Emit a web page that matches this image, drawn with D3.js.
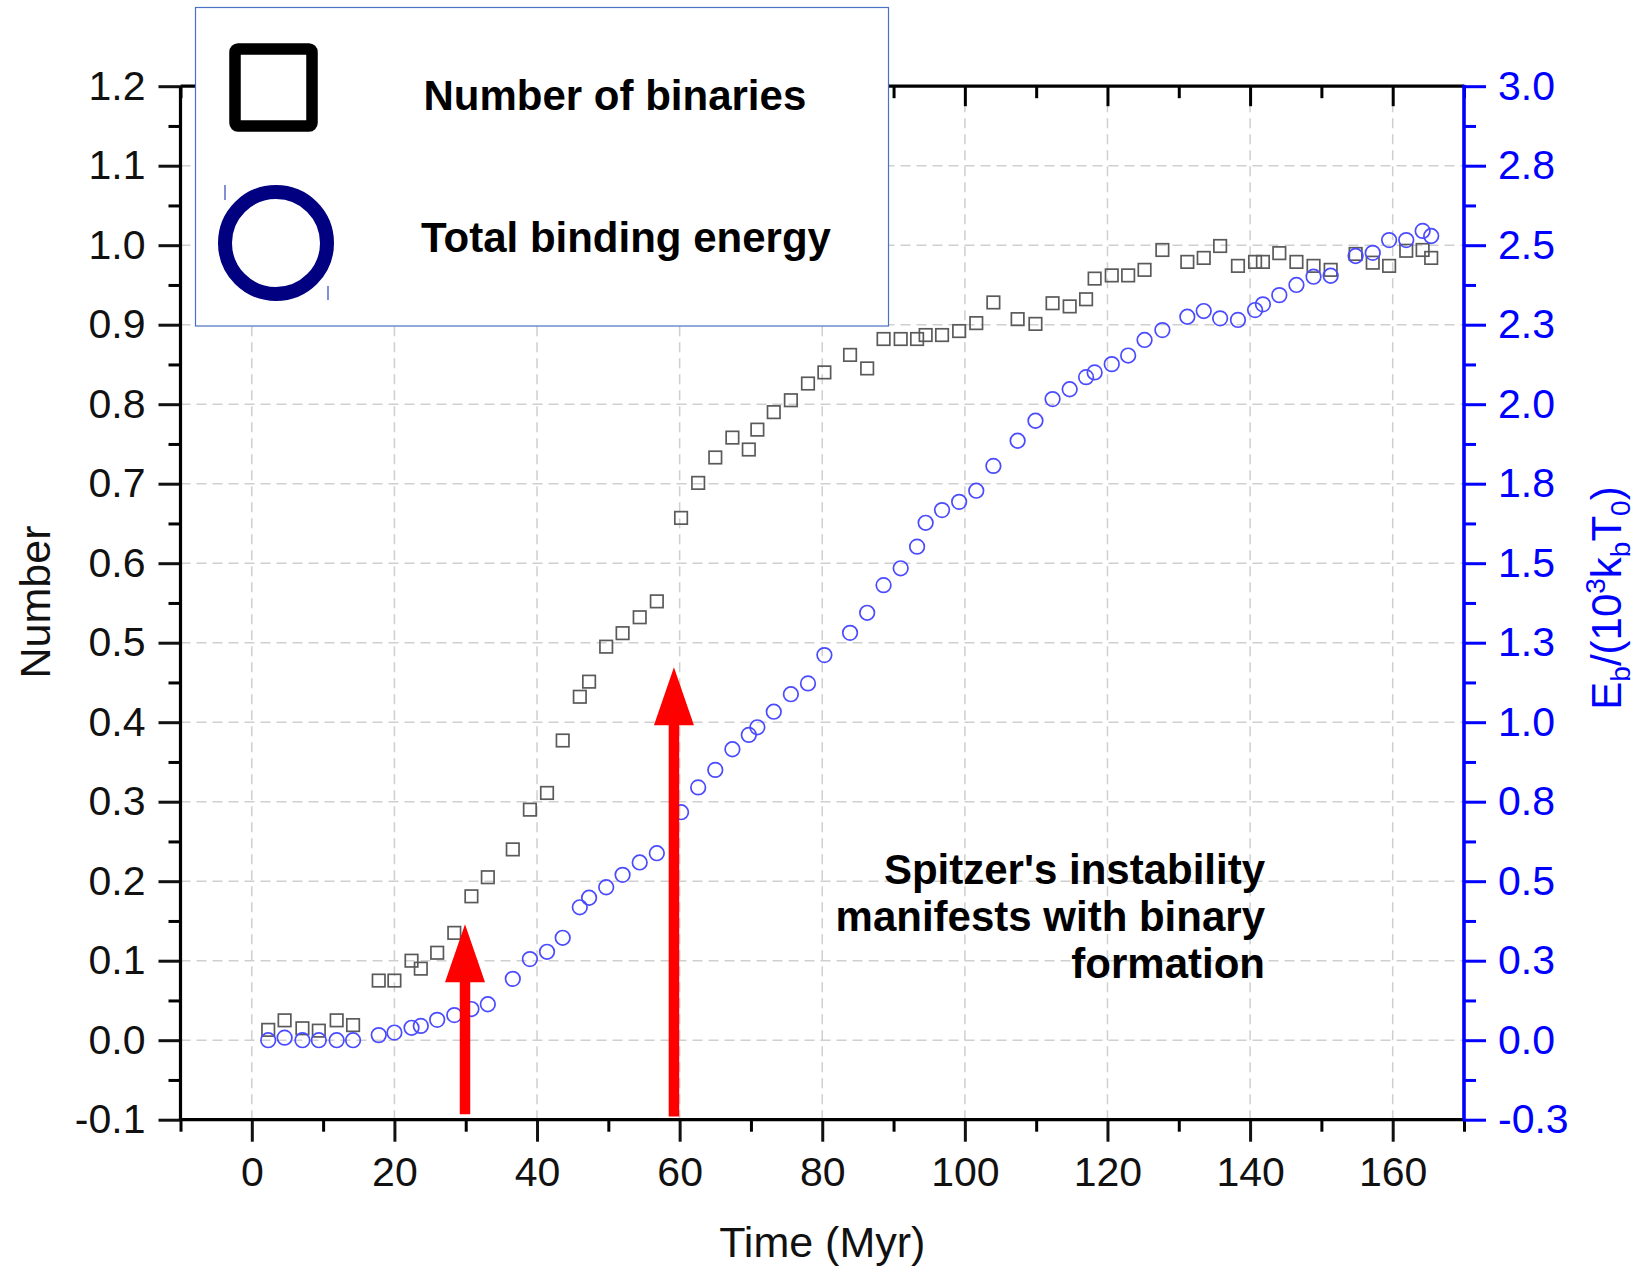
<!DOCTYPE html>
<html>
<head>
<meta charset="utf-8">
<script src="https://cdn.jsdelivr.net/npm/d3@7"></script>
<style>
  html, body { margin: 0; padding: 0; background: #fff; }
  svg { display: block; }
  text { font-family: "Liberation Sans", Arial, Helvetica, sans-serif; }
</style>
</head>
<body>
<svg id="chart" width="1648" height="1268"></svg>
<script>
// Simulation snapshots (Myr)
const timeMyr = [2.3, 4.6, 7.1, 9.4, 11.9, 14.2, 17.8, 20.0, 22.4, 23.7, 26.0, 28.4, 30.8, 33.1,
  36.6, 39.0, 41.4, 43.6, 46.0, 47.3, 49.7, 52.0, 54.4, 56.8, 60.2, 62.6, 65.0, 67.4, 69.7, 70.9,
  73.2, 75.6, 78.0, 80.3, 83.9, 86.3, 88.6, 91.0, 93.3, 94.5, 96.8, 99.2, 101.6, 104.0, 107.4,
  109.9, 112.3, 114.7, 117.0, 118.2, 120.6, 122.9, 125.2, 127.7, 131.2, 133.5, 135.8, 138.3,
  140.7, 141.8, 144.1, 146.5, 148.9, 151.3, 154.8, 157.2, 159.5, 161.9, 164.2, 165.4];

// Normalised number of binaries (left axis)
const binaryNumber = [0.013, 0.025, 0.015, 0.012, 0.025, 0.019, 0.075, 0.075, 0.100, 0.090, 0.110,
  0.135, 0.181, 0.205, 0.240, 0.290, 0.311, 0.377, 0.432, 0.451, 0.495, 0.512, 0.532, 0.552,
  0.657, 0.701, 0.733, 0.758, 0.743, 0.768, 0.790, 0.805, 0.826, 0.840, 0.862, 0.845, 0.882,
  0.882, 0.882, 0.887, 0.887, 0.892, 0.902, 0.928, 0.907, 0.901, 0.927, 0.923, 0.932, 0.958,
  0.962, 0.962, 0.969, 0.994, 0.979, 0.984, 0.999, 0.974, 0.979, 0.979, 0.990, 0.979, 0.974,
  0.969, 0.989, 0.978, 0.974, 0.993, 0.994, 0.984];

// Total binding energy, E_b / (10^3 k_b T_0) (right axis)
const bindingEnergy = [0.000, 0.008, 0.000, 0.000, 0.000, 0.000, 0.016, 0.024, 0.039, 0.045,
  0.064, 0.079, 0.098, 0.113, 0.193, 0.255, 0.278, 0.322, 0.418, 0.448, 0.481, 0.520, 0.559,
  0.588, 0.717, 0.795, 0.850, 0.915, 0.960, 0.984, 1.033, 1.088, 1.122, 1.211, 1.281, 1.344,
  1.431, 1.484, 1.552, 1.627, 1.667, 1.693, 1.728, 1.806, 1.885, 1.948, 2.016, 2.047, 2.085,
  2.100, 2.126, 2.153, 2.202, 2.233, 2.275, 2.293, 2.270, 2.265, 2.296, 2.314, 2.343, 2.375,
  2.401, 2.404, 2.466, 2.476, 2.516, 2.516, 2.545, 2.529];

// Axis ticks
const xMajorTicks = [0, 20, 40, 60, 80, 100, 120, 140, 160];
const xMinorTicks = [-10, 10, 30, 50, 70, 90, 110, 130, 150, 170];
const yLeftTicks = [-0.1, 0.0, 0.1, 0.2, 0.3, 0.4, 0.5, 0.6, 0.7, 0.8, 0.9, 1.0, 1.1, 1.2];
const yLeftGrid = [0.0, 0.1, 0.2, 0.3, 0.4, 0.5, 0.6, 0.7, 0.8, 0.9, 1.0, 1.1];
const yRightTicks = [-0.25, 0.0, 0.25, 0.5, 0.75, 1.0, 1.25, 1.5, 1.75, 2.0, 2.25, 2.5, 2.75, 3.0];

// Onset markers: time, and the left-axis span of each arrow
const arrowTime = [29.9, 59.2];
const arrowFrom = [-0.093, -0.096];
const arrowTo = [0.146, 0.469];

const noteLines = ["Spitzer's instability", "manifests with binary", "formation"];
const legendLabels = ["Number of binaries", "Total binding energy"];

// ---------------------------------------------------------------
const svg = d3.select("#chart");
const plot = { left: 180.5, right: 1464, top: 86.2, bottom: 1119.7 };

const x = d3.scaleLinear().domain([-10, 170]).range([plot.left, plot.right]);
const yL = d3.scaleLinear().domain([-0.1, 1.2]).range([plot.bottom, plot.top]);
const yR = d3.scaleLinear().domain([-0.25, 3.0]).range([plot.bottom, plot.top]);

const points = timeMyr.map((t, i) => ({ t, n: binaryNumber[i], e: bindingEnergy[i] }));

// grid
const grid = svg.append("g").attr("stroke", "#cfcfcf").attr("stroke-width", 1.5)
  .attr("stroke-dasharray", "10,6").attr("fill", "none");
grid.selectAll("line.h").data(yLeftGrid).join("line").attr("class", "h")
  .attr("x1", plot.left).attr("x2", plot.right)
  .attr("y1", d => yL(d)).attr("y2", d => yL(d));
grid.selectAll("line.v").data(xMajorTicks).join("line").attr("class", "v")
  .attr("y1", plot.top).attr("y2", plot.bottom)
  .attr("x1", d => x(d)).attr("x2", d => x(d));

// number of binaries: open squares
const sq = 12.5;
svg.append("g").selectAll("rect").data(points).join("rect")
  .attr("x", d => x(d.t) - sq / 2).attr("y", d => yL(d.n) - sq / 2)
  .attr("width", sq).attr("height", sq)
  .attr("fill", "none").attr("stroke", "#5a5a5a").attr("stroke-width", 1.7);

// binding energy: open circles
svg.append("g").selectAll("circle").data(points).join("circle")
  .attr("cx", d => x(d.t)).attr("cy", d => yR(d.e)).attr("r", 7.3)
  .attr("fill", "none").attr("stroke", "#4a4aff").attr("stroke-width", 1.7);

// red arrows
const headLen = 58, headW = 40, shaftW = 10.5;
svg.append("g").selectAll("path").data(arrowTime.map((t, i) => ({ t, a: arrowFrom[i], b: arrowTo[i] })))
  .join("path")
  .attr("fill", "#ff0000")
  .attr("d", d => {
    const cx = x(d.t), y0 = yL(d.a), y1 = yL(d.b), yb = y1 + headLen;
    return `M${cx - shaftW / 2},${y0} L${cx - shaftW / 2},${yb} L${cx - headW / 2},${yb} L${cx},${y1}` +
      ` L${cx + headW / 2},${yb} L${cx + shaftW / 2},${yb} L${cx + shaftW / 2},${y0} Z`;
  });

// axes
function styleAxis(g, color) {
  g.select(".domain").remove();
  g.selectAll(".tick line").attr("stroke", color).attr("stroke-width", 3);
  g.selectAll(".tick text").attr("fill", color).style("font-size", "41px")
    .style("font-family", "'Liberation Sans', Arial, sans-serif");
}
// one decimal, plain hyphen for negatives
const fmt = d => d.toFixed(1);

// bottom
svg.append("g").attr("transform", `translate(0,${plot.bottom})`)
  .call(d3.axisBottom(x).tickValues(xMinorTicks).tickSize(12).tickFormat(""))
  .call(g => styleAxis(g, "#000"));
svg.append("g").attr("transform", `translate(0,${plot.bottom})`)
  .call(d3.axisBottom(x).tickValues(xMajorTicks).tickSize(22).tickPadding(15).tickFormat(d3.format("d")))
  .call(g => styleAxis(g, "#111"));
// top (inward ticks)
svg.append("g").attr("transform", `translate(0,${plot.top})`)
  .call(d3.axisBottom(x).tickValues(xMinorTicks).tickSize(12).tickFormat(""))
  .call(g => styleAxis(g, "#000"));
svg.append("g").attr("transform", `translate(0,${plot.top})`)
  .call(d3.axisBottom(x).tickValues(xMajorTicks).tickSize(20).tickFormat(""))
  .call(g => styleAxis(g, "#000"));
// left
svg.append("g").attr("transform", `translate(${plot.left},0)`)
  .call(d3.axisLeft(yL).tickValues(d3.range(-0.05, 1.2, 0.1)).tickSize(12).tickFormat(""))
  .call(g => styleAxis(g, "#000"));
svg.append("g").attr("transform", `translate(${plot.left},0)`)
  .call(d3.axisLeft(yL).tickValues(yLeftTicks).tickSize(22).tickPadding(13).tickFormat(fmt))
  .call(g => styleAxis(g, "#111"));
// right
svg.append("g").attr("transform", `translate(${plot.right},0)`)
  .call(d3.axisRight(yR).tickValues(d3.range(-0.125, 3.0, 0.25)).tickSize(12).tickFormat(""))
  .call(g => styleAxis(g, "#0000ff"));
svg.append("g").attr("transform", `translate(${plot.right},0)`)
  .call(d3.axisRight(yR).tickValues(yRightTicks).tickSize(22).tickPadding(12).tickFormat(fmt))
  .call(g => styleAxis(g, "#0000ff"));

// frame lines
svg.append("line").attr("x1", plot.left).attr("x2", plot.right).attr("y1", plot.bottom).attr("y2", plot.bottom)
  .attr("stroke", "#000").attr("stroke-width", 3.2);
svg.append("line").attr("x1", plot.left).attr("x2", plot.right).attr("y1", plot.top).attr("y2", plot.top)
  .attr("stroke", "#000").attr("stroke-width", 3.2);
svg.append("line").attr("x1", plot.left).attr("x2", plot.left).attr("y1", plot.top).attr("y2", plot.bottom)
  .attr("stroke", "#000").attr("stroke-width", 3.2);
svg.append("line").attr("x1", plot.right).attr("x2", plot.right).attr("y1", plot.top - 1.5).attr("y2", plot.bottom + 1.5)
  .attr("stroke", "#0000ff").attr("stroke-width", 3.6);

// axis titles
svg.append("text").attr("transform", `translate(50,602) rotate(-90)`)
  .attr("text-anchor", "middle").style("font-size", "43px").attr("fill", "#111").text("Number");
svg.append("text").attr("x", (plot.left + plot.right) / 2).attr("y", 1257)
  .attr("text-anchor", "middle").style("font-size", "43px").attr("fill", "#111").text("Time (Myr)");

const rt = svg.append("text").attr("transform", `translate(1621,598) rotate(-90)`)
  .attr("text-anchor", "middle").style("font-size", "42px").attr("fill", "#0000ff");
[["E", 0, 42], ["b", 9, 28], ["/(10", -9, 42], ["3", -16, 28], ["k", 16, 42], ["b", 9, 28],
 ["T", -9, 42], ["0", 9, 28], [")", -9, 42]].forEach(([s, dy, fs]) => {
  rt.append("tspan").attr("dy", dy).style("font-size", fs + "px").text(s);
});

// annotation
const note = svg.append("text").attr("text-anchor", "end").style("font-size", "42px")
  .style("font-weight", "bold").attr("fill", "#000");
noteLines.forEach((s, i) => {
  note.append("tspan").attr("x", 1265).attr("y", 884 + i * 47).text(s);
});

// legend
const lg = svg.append("g");
lg.append("rect").attr("x", 195.5).attr("y", 7.5).attr("width", 693).attr("height", 318.5)
  .attr("fill", "#fff").attr("stroke", "#4a72c4").attr("stroke-width", 1.2);
lg.append("rect").attr("x", 235).attr("y", 49).attr("width", 77).attr("height", 77).attr("rx", 3)
  .attr("fill", "none").attr("stroke", "#000").attr("stroke-width", 11.5);
lg.append("circle").attr("cx", 276).attr("cy", 243).attr("r", 51)
  .attr("fill", "none").attr("stroke", "#000080").attr("stroke-width", 14);
lg.append("line").attr("x1", 225).attr("x2", 225).attr("y1", 185).attr("y2", 200)
  .attr("stroke", "#3344bb").attr("stroke-width", 1.2);
lg.append("line").attr("x1", 328).attr("x2", 328).attr("y1", 286).attr("y2", 300)
  .attr("stroke", "#3344bb").attr("stroke-width", 1.2);
lg.selectAll("text.lab").data(legendLabels).join("text").attr("class", "lab")
  .attr("x", (d, i) => i === 0 ? 423.5 : 421).attr("y", (d, i) => i === 0 ? 110 : 252)
  .style("font-size", "42px").style("font-weight", "bold").attr("fill", "#000").text(d => d);
</script>
</body>
</html>
